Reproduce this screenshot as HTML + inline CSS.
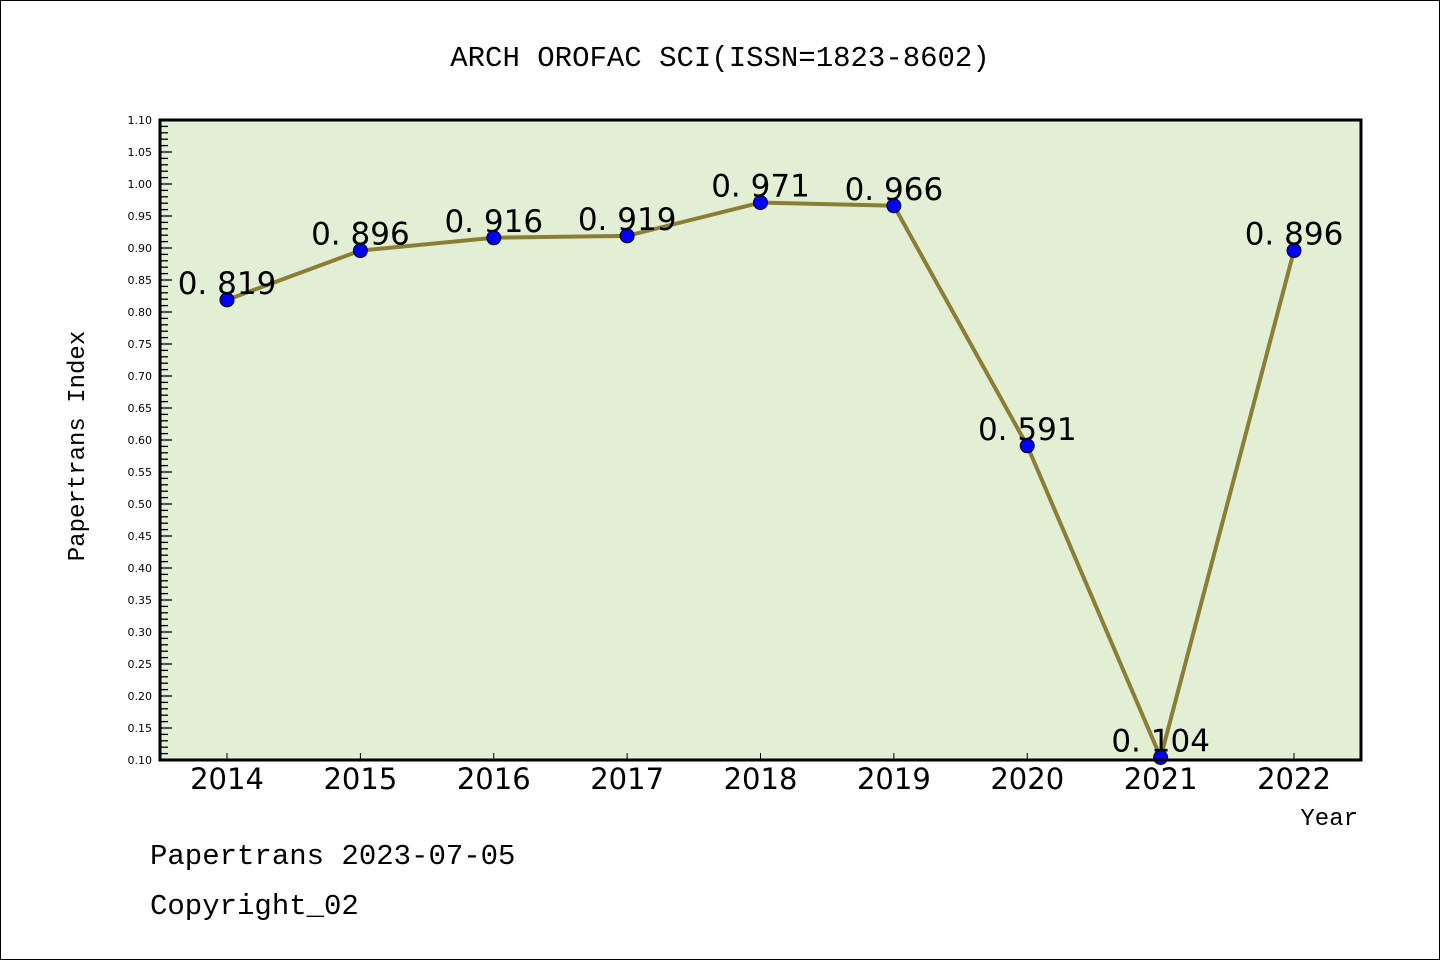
<!DOCTYPE html>
<html><head><meta charset="utf-8"><style>
html,body{margin:0;padding:0;background:#fff;}
svg{display:block;font-family:"Liberation Mono","DejaVu Sans Mono",monospace;}
</style></head><body>
<svg id="chart" width="1440" height="960" viewBox="0 0 1440 960">
<rect x="0.5" y="0.5" width="1439" height="959" fill="#fff" stroke="#000" stroke-width="1"/>
<text x="720" y="66" text-anchor="middle" font-size="29">ARCH OROFAC SCI(ISSN=1823-8602)</text>
<rect x="160" y="120" width="1201" height="640" fill="#e2efd4"/>
<g id="yaxis"></g>
<g id="xaxis"></g>
<g id="series"></g>
<rect x="160" y="120" width="1201" height="640" fill="none" stroke="#000" stroke-width="3"/>
<text transform="translate(84,446) rotate(-90)" text-anchor="middle" font-size="24">Papertrans Index</text>
<text x="1358" y="825" text-anchor="end" font-size="24">Year</text>
<text x="150" y="864" font-size="29">Papertrans 2023-07-05</text>
<text x="150" y="914" font-size="29">Copyright_02</text>
</svg>
<script>
const years = [2014,2015,2016,2017,2018,2019,2020,2021,2022];
const values = [0.819,0.896,0.916,0.919,0.971,0.966,0.591,0.104,0.896];
const valueLabels = ["0.819","0.896","0.916","0.919","0.971","0.966","0.591","0.104","0.896"];
const yTicks = [0.10,0.15,0.20,0.25,0.30,0.35,0.40,0.45,0.50,0.55,0.60,0.65,0.70,0.75,0.80,0.85,0.90,0.95,1.00,1.05,1.10];

const NS="http://www.w3.org/2000/svg";
const yMin=0.10,yMax=1.10,yTop=120,yBot=760;
const y=v=>yBot-(v-yMin)/(yMax-yMin)*(yBot-yTop);
const x0=227,dx=(1294-227)/8;
const x=yr=>x0+(yr-years[0])*dx;
function mk(tag,attrs,parent){const e=document.createElementNS(NS,tag);for(const k in attrs)e.setAttribute(k,attrs[k]);parent.appendChild(e);return e;}

const ya=document.getElementById('yaxis');
for(let i=0;i<=100;i++){
  const v=yMin+i*0.01, yy=y(v), major=i%5===0;
  const t=mk('line',{x1:160,x2:major?172:168,y1:yy,y2:yy,stroke:'#000','stroke-width':1.3},ya);
  
  
}
yTicks.forEach(v=>{
  const t=mk('text',{x:152,y:y(v)+4,'text-anchor':'end','font-size':11,'font-family':'"DejaVu Sans",sans-serif'},ya);
  t.textContent=v.toFixed(2);
  
  
});
const xa=document.getElementById('xaxis');
years.forEach(yr=>{
  const l=mk('line',{x1:x(yr),x2:x(yr),y1:760,y2:753,stroke:'#000','stroke-width':1},xa);
  
  
  const t=mk('text',{x:x(yr),y:789,'text-anchor':'middle','font-size':29,'font-family':'"DejaVu Sans",sans-serif'},xa);
  t.textContent=yr;
  
  
});
const s=document.getElementById('series');
const pts=years.map((yr,i)=>x(yr)+','+y(values[i])).join(' ');
const pl=mk('polyline',{points:pts,fill:'none',stroke:'#8c7d35','stroke-width':4,'stroke-linejoin':'round'},s);


years.forEach((yr,i)=>{
  const c=mk('circle',{cx:x(yr),cy:y(values[i]),r:7,fill:'#0000ff',stroke:'#000','stroke-width':1},s);
  
  
  const t=mk('text',{x:x(yr),y:y(values[i])-6,'text-anchor':'middle','font-size':31,'font-family':'"DejaVu Sans",sans-serif'},s);
  t.textContent=valueLabels[i].replace('.','. ');
  
  
});
</script>
</body></html>
